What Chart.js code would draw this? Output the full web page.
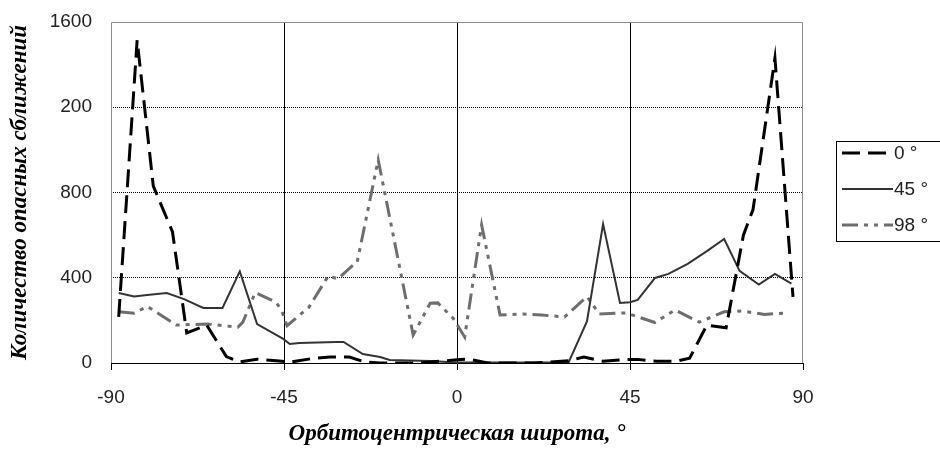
<!DOCTYPE html>
<html>
<head>
<meta charset="utf-8">
<script src="https://cdn.jsdelivr.net/npm/chart.js@4.4.1/dist/chart.umd.min.js"></script>
<style>
html,body{margin:0;padding:0;background:#fff;}
#wrap{width:940px;height:449px;position:relative;}
</style>
</head>
<body>
<div id="wrap"><canvas id="c" width="940" height="449"></canvas></div>
<script>
// ---- data ----
const seriesNames = ["0 °", "45 °", "98 °"];

const lat0 = [-88, -83.2, -79, -74, -70.3, -65.1, -60, -56.5, -52, -47, -43, -38, -33, -28, -24, -20, -10, 0, 3, 8, 20, 29, 33, 38, 44, 47, 52, 57, 60.5, 65, 70, 74.5, 77, 82.7, 87.4];
const val0 = [216, 1515, 830, 615, 141, 178, 30, 5, 18, 10, 5, 20, 28, 28, 5, 0, 0, 15, 18, 0, 0, 10, 28, 8, 17, 17, 8, 8, 22, 178, 165, 600, 720, 1430, 310];

const lat45 = [-88, -84, -80, -75.5, -71, -66, -61, -56.5, -52, -45.2, -43.5, -41, -31.5, -29.5, -24.5, -20, -17.5, -7, 0, 29, 33.8, 38, 42.4, 45, 47, 51.5, 55, 60, 65, 69.5, 73.5, 78.5, 82.7, 87];
const val45 = [328, 312, 320, 328, 300, 258, 258, 430, 183, 113, 89, 94, 99, 99, 42, 28, 14, 9, 2, 2, 195, 652, 282, 285, 296, 399, 418, 465, 525, 582, 432, 368, 418, 372];

const lat98 = [-88, -84, -80.5, -73, -65, -57, -55.7, -52.5, -47, -45.5, -44.2, -38.5, -33.5, -31, -27, -26, -20.5, -11.4, -7, -5, -1, 2, 6.4, 11.2, 17, 22, 28, 33.8, 37, 44, 51.5, 56.7, 63, 69.5, 74, 80, 86];
const val98 = [240, 234, 265, 178, 183, 168, 192, 330, 285, 240, 175, 262, 408, 395, 460, 470, 953, 131, 280, 282, 210, 122, 648, 225, 230, 225, 216, 312, 230, 235, 190, 249, 192, 240, 244, 228, 235];

const xTickValues = [-90, -45, 0, 45, 90];
const yTickValues = [0, 400, 800, 1200, 1600];
const yTickLabels = ["0", "400", "800", "200", "1600"];

const xTitle = "Орбитоцентрическая широта, °";
const yTitle = "Количество опасных сближений";

// ---- build ----
function pts(xs, ys){ return xs.map((x,i)=>({x:x, y:ys[i]})); }

const styles = [
  {color:'#000000', width:3, dash:[18,8]},
  {color:'#333333', width:2, dash:[]},
  {color:'#6e6e6e', width:3, dash:[16,6,4,6,4,6]}
];

const datasets = [
  {label: seriesNames[0], data: pts(lat0, val0)},
  {label: seriesNames[1], data: pts(lat45, val45)},
  {label: seriesNames[2], data: pts(lat98, val98)}
].map((d,i)=>Object.assign(d, {
  borderColor: styles[i].color,
  borderWidth: styles[i].width,
  borderDash: styles[i].dash,
  pointRadius: 0,
  tension: 0,
  fill: false,
  borderCapStyle: 'butt',
  borderJoinStyle: 'miter'
}));

const titleFont = 'italic bold 23px "Liberation Serif", "Times New Roman", serif';

const frameAndLegend = {
  id: 'frameAndLegend',
  beforeDatasetsDraw(chart){
    const {ctx, chartArea:a} = chart;
    ctx.save();
    ctx.strokeStyle = '#8c8c8c';
    ctx.lineWidth = 1;
    ctx.beginPath();
    ctx.moveTo(a.left+0.5, a.bottom);
    ctx.lineTo(a.left+0.5, a.top+0.5);
    ctx.lineTo(a.right-0.5, a.top+0.5);
    ctx.lineTo(a.right-0.5, a.bottom);
    ctx.stroke();
    ctx.restore();
  },
  afterDraw(chart){
    const ctx = chart.ctx;
    const a = chart.chartArea;
    ctx.save();
    // y axis title
    ctx.translate(20, (a.top + a.bottom) / 2);
    ctx.rotate(-Math.PI / 2);
    ctx.font = titleFont;
    ctx.fillStyle = '#000';
    ctx.textAlign = 'center';
    ctx.textBaseline = 'middle';
    ctx.fillText(yTitle, 0, 0);
    ctx.restore();

    ctx.save();
    // x axis title
    ctx.font = titleFont;
    ctx.fillStyle = '#000';
    ctx.textAlign = 'center';
    ctx.textBaseline = 'middle';
    ctx.fillText(xTitle, (a.left + a.right) / 2, 434);
    ctx.restore();

    ctx.save();
    // legend box
    ctx.strokeStyle = '#000';
    ctx.lineWidth = 1;
    ctx.strokeRect(836.5, 141.5, 110, 100);
    const ys = [153, 189, 225];
    chart.data.datasets.forEach((ds, i)=>{
      ctx.beginPath();
      ctx.strokeStyle = ds.borderColor;
      ctx.lineWidth = ds.borderWidth;
      ctx.setLineDash(ds.borderDash);
      ctx.moveTo(842, ys[i]);
      ctx.lineTo(893, ys[i]);
      ctx.stroke();
      ctx.setLineDash([]);
      ctx.fillStyle = '#222';
      ctx.font = '19px "Liberation Sans", Arial, sans-serif';
      ctx.textBaseline = 'middle';
      ctx.textAlign = 'left';
      ctx.fillText(ds.label, 894, ys[i] + 1);
    });
    ctx.restore();
  }
};

new Chart(document.getElementById('c'), {
  type: 'line',
  data: {datasets},
  options: {
    responsive: false,
    animation: false,
    layout: {padding: {left: 0, right: 137, top: 22, bottom: 0}},
    plugins: {legend: {display: false}, tooltip: {enabled: false}},
    scales: {
      x: {
        type: 'linear', min: -90, max: 90,
        afterBuildTicks(s){ s.ticks = xTickValues.map(v=>({value:v})); },
        afterFit(s){ s.height = 86; s.paddingLeft = 0; s.paddingRight = 0; },
        grid: {
          color: c => (c.tick && (c.tick.value === -90 || c.tick.value === 90)) ? 'rgba(0,0,0,0)' : '#000',
          lineWidth: 1,
          drawTicks: true, tickLength: 7, tickColor: '#000'
        },
        border: {display: true, color: '#000', width: 1},
        ticks: {
          color: '#222', padding: 16, maxRotation: 0,
          font: {family: '"Liberation Sans", Arial, sans-serif', size: 19},
          callback: v => String(v)
        },
        title: {display: false}
      },
      y: {
        type: 'linear', min: 0, max: 1600,
        afterBuildTicks(s){ s.ticks = yTickValues.map(v=>({value:v})); },
        afterFit(s){ s.width = 111; s.paddingTop = 0; s.paddingBottom = 0; },
        grid: {
          color: c => (c.tick && (c.tick.value === 0 || c.tick.value === 1600)) ? 'rgba(0,0,0,0)' : '#000',
          lineWidth: 1, drawTicks: false
        },
        border: {display: false, dash: [1,1]},
        ticks: {
          color: '#222', padding: 19,
          font: {family: '"Liberation Sans", Arial, sans-serif', size: 19},
          callback: (v) => { const k = yTickValues.indexOf(v); return k >= 0 ? yTickLabels[k] : ''; }
        },
        title: {display: false}
      }
    }
  },
  plugins: [frameAndLegend]
});
</script>
</body>
</html>
